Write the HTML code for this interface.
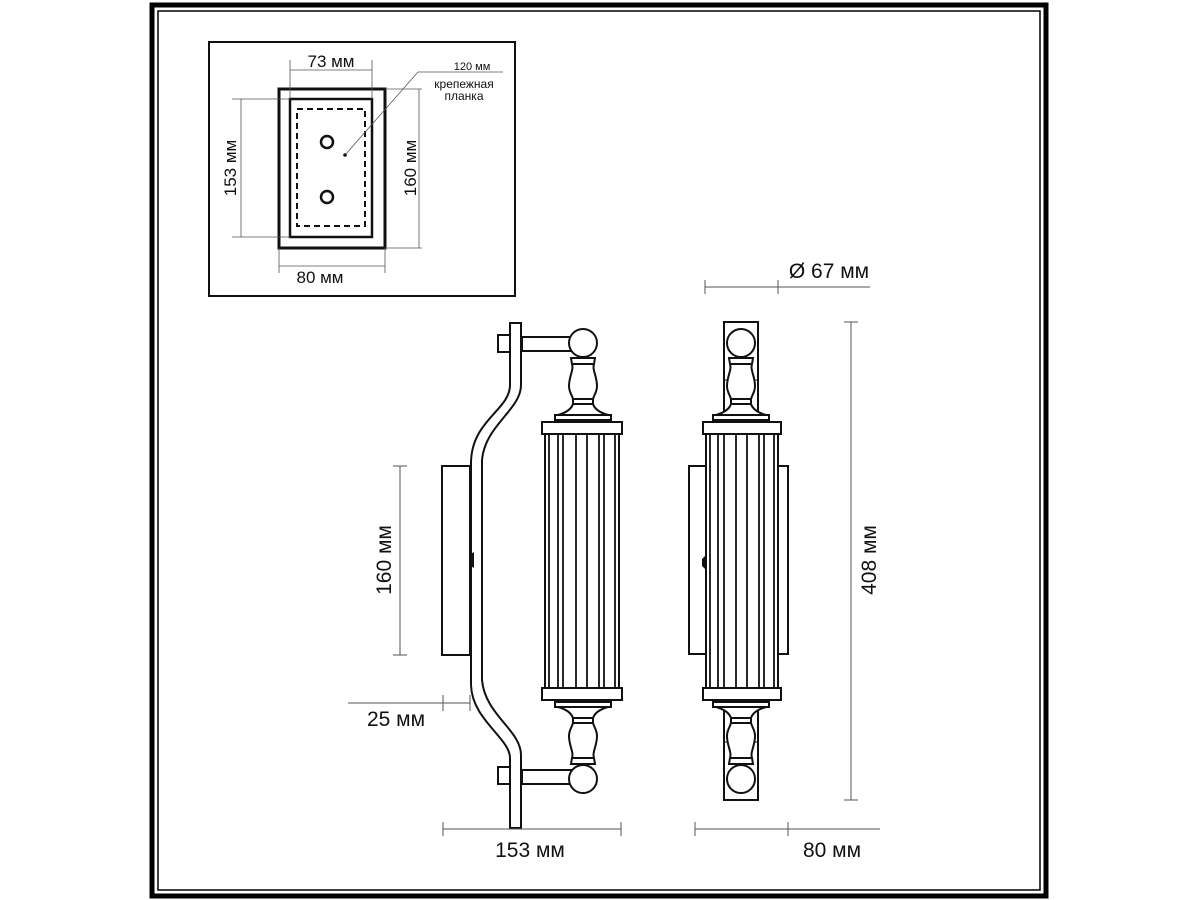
<!DOCTYPE html>
<html><head><meta charset="utf-8"><style>
html,body{margin:0;padding:0;background:#fff;}
svg{display:block;}
text{font-family:"Liberation Sans","DejaVu Sans",sans-serif;fill:#111;}
</style></head><body>
<svg width="1200" height="900" viewBox="0 0 1200 900" xmlns="http://www.w3.org/2000/svg">
<defs>
<g id="fin" fill="#fff" stroke="#111" stroke-width="2">
<path d="M-12,358 L12,358 L11,364 C9,370 14,376 14,386 C14,393 10,396 10,400 L10,404 C12,410 18,413 25,415 L-25,415 C-18,413 -12,410 -10,404 L-10,400 C-10,396 -14,393 -14,386 C-14,376 -9,370 -11,364 Z"/>
<line x1="-11" y1="364" x2="11" y2="364"/>
<line x1="-10" y1="399" x2="10" y2="399"/>
<line x1="-10" y1="404" x2="10" y2="404"/>
<rect x="-28" y="415" width="56" height="5"/>
</g>
</defs>
<rect x="0" y="0" width="1200" height="900" fill="#fff"/>
<rect x="152" y="5" width="894" height="891" fill="none" stroke="#000" stroke-width="5"/>
<rect x="158" y="11" width="882" height="879" fill="none" stroke="#000" stroke-width="1.5"/>

<!-- inset -->
<g fill="none" stroke="#111">
<rect x="209" y="42" width="306" height="254" stroke-width="2"/>
<rect x="279" y="89" width="106" height="159" stroke-width="3"/>
<rect x="290" y="99" width="82" height="138" stroke-width="2.5"/>
<rect x="297" y="109" width="68" height="117" stroke-width="2" stroke-dasharray="6,4"/>
<circle cx="327" cy="142" r="6" stroke-width="2.5"/>
<circle cx="327" cy="197" r="6" stroke-width="2.5"/>
<g stroke-width="0.8" stroke="#555">
<line x1="290" y1="60" x2="290" y2="99"/><line x1="372" y1="60" x2="372" y2="99"/>
<line x1="290" y1="70" x2="372" y2="70"/>
<line x1="232" y1="99" x2="290" y2="99"/><line x1="232" y1="237" x2="290" y2="237"/>
<line x1="241" y1="99" x2="241" y2="237"/>
<line x1="385" y1="89" x2="422" y2="89"/><line x1="385" y1="248" x2="422" y2="248"/>
<line x1="419" y1="89" x2="419" y2="248"/>
<line x1="279" y1="248" x2="279" y2="273"/><line x1="385" y1="248" x2="385" y2="273"/>
<line x1="279" y1="266" x2="385" y2="266"/>
<line x1="345" y1="155" x2="418" y2="72"/><line x1="418" y1="72" x2="503" y2="72"/>
</g>
</g>
<circle cx="345" cy="155" r="1.8" fill="#111"/>
<text x="331" y="67" font-size="17" text-anchor="middle">73 мм</text>
<text x="472" y="70" font-size="11" text-anchor="middle">120 мм</text>
<text x="464" y="88" font-size="12" text-anchor="middle">крепежная</text>
<text x="464" y="100" font-size="12" text-anchor="middle">планка</text>
<text x="320" y="283" font-size="17" text-anchor="middle">80 мм</text>
<text transform="translate(236,168) rotate(-90)" font-size="17" text-anchor="middle">153 мм</text>
<text transform="translate(416,168) rotate(-90)" font-size="17" text-anchor="middle">160 мм</text>

<!-- LEFT LAMP -->
<g fill="#fff" stroke="#111" stroke-width="2">
<rect x="442" y="466" width="28" height="189"/>
<path d="M510,323 L521,323 L521,385 C521,410 485,425 482,460 L482,680 C485,715 521,730 521,755 L521,828 L510,828 L510,758 C510,738 472,720 471,685 L471,462 C472,420 510,410 510,385 Z"/>
<rect x="498" y="335" width="12" height="17"/>
<rect x="498" y="767" width="12" height="17"/>
<rect x="522" y="337" width="50" height="14"/>
<rect x="522" y="770" width="50" height="14"/>
</g>
<use href="#fin" transform="translate(583,0)"/>
<use href="#fin" transform="translate(583,1122) scale(1,-1)"/>
<g fill="#fff" stroke="#111" stroke-width="2">
<circle cx="583" cy="343" r="14"/>
<circle cx="583" cy="779" r="14"/>
<rect x="545" y="434" width="74" height="254"/>
<rect x="542" y="422" width="80" height="12"/>
<rect x="542" y="688" width="80" height="12"/>
</g>
<g stroke="#111" stroke-width="1.8">
<line x1="549" y1="434" x2="549" y2="688"/><line x1="558" y1="434" x2="558" y2="688"/>
<line x1="563" y1="434" x2="563" y2="688"/><line x1="576" y1="434" x2="576" y2="688"/>
<line x1="587" y1="434" x2="587" y2="688"/><line x1="599" y1="434" x2="599" y2="688"/>
<line x1="604" y1="434" x2="604" y2="688"/><line x1="615" y1="434" x2="615" y2="688"/>
</g>
<path d="M469,555 L474,552 L474,568 L469,565 Z" fill="#111"/>

<!-- RIGHT LAMP -->
<g fill="#fff" stroke="#111" stroke-width="2">
<rect x="724" y="322" width="34" height="478"/>
<rect x="689" y="466" width="17" height="188"/>
<rect x="778" y="466" width="10" height="188"/>
</g>
<line x1="724" y1="380" x2="758" y2="380" stroke="#111" stroke-width="1"/>
<line x1="724" y1="742" x2="758" y2="742" stroke="#111" stroke-width="1"/>
<use href="#fin" transform="translate(741,0)"/>
<use href="#fin" transform="translate(741,1122) scale(1,-1)"/>
<g fill="#fff" stroke="#111" stroke-width="2">
<circle cx="741" cy="343" r="14"/>
<circle cx="741" cy="779" r="14"/>
<rect x="706" y="434" width="72" height="254"/>
<rect x="703" y="422" width="78" height="12"/>
<rect x="703" y="688" width="78" height="12"/>
</g>
<g stroke="#111" stroke-width="1.8">
<line x1="710" y1="434" x2="710" y2="688"/><line x1="718" y1="434" x2="718" y2="688"/>
<line x1="724" y1="434" x2="724" y2="688"/><line x1="736" y1="434" x2="736" y2="688"/>
<line x1="747" y1="434" x2="747" y2="688"/><line x1="759" y1="434" x2="759" y2="688"/>
<line x1="764" y1="434" x2="764" y2="688"/><line x1="774" y1="434" x2="774" y2="688"/>
</g>
<path d="M706,555 L702,559 L702,566 L706,570 Z" fill="#111"/>

<!-- dimension lines -->
<g stroke="#555" stroke-width="1">
<line x1="400" y1="466" x2="400" y2="655"/><line x1="393" y1="466" x2="407" y2="466"/><line x1="393" y1="655" x2="407" y2="655"/>
<line x1="348" y1="703" x2="470" y2="703"/><line x1="443" y1="695" x2="443" y2="711"/><line x1="470" y1="695" x2="470" y2="711"/>
<line x1="443" y1="829" x2="621" y2="829"/><line x1="443" y1="822" x2="443" y2="836"/><line x1="621" y1="822" x2="621" y2="836"/>
<line x1="695" y1="829" x2="880" y2="829"/><line x1="695" y1="822" x2="695" y2="836"/><line x1="788" y1="822" x2="788" y2="836"/>
<line x1="705" y1="287" x2="870" y2="287"/><line x1="705" y1="280" x2="705" y2="294"/><line x1="778" y1="280" x2="778" y2="294"/>
<line x1="851" y1="322" x2="851" y2="800"/><line x1="844" y1="322" x2="858" y2="322"/><line x1="844" y1="800" x2="858" y2="800"/>
</g>
<text transform="translate(391,560) rotate(-90)" font-size="21" text-anchor="middle">160 мм</text>
<text x="396" y="726" font-size="21" text-anchor="middle">25 мм</text>
<text x="530" y="857" font-size="21" text-anchor="middle">153 мм</text>
<text x="832" y="857" font-size="21" text-anchor="middle">80 мм</text>
<text x="829" y="278" font-size="21" text-anchor="middle">Ø 67 мм</text>
<text transform="translate(876,560) rotate(-90)" font-size="21" text-anchor="middle">408 мм</text>
</svg>
</body></html>
